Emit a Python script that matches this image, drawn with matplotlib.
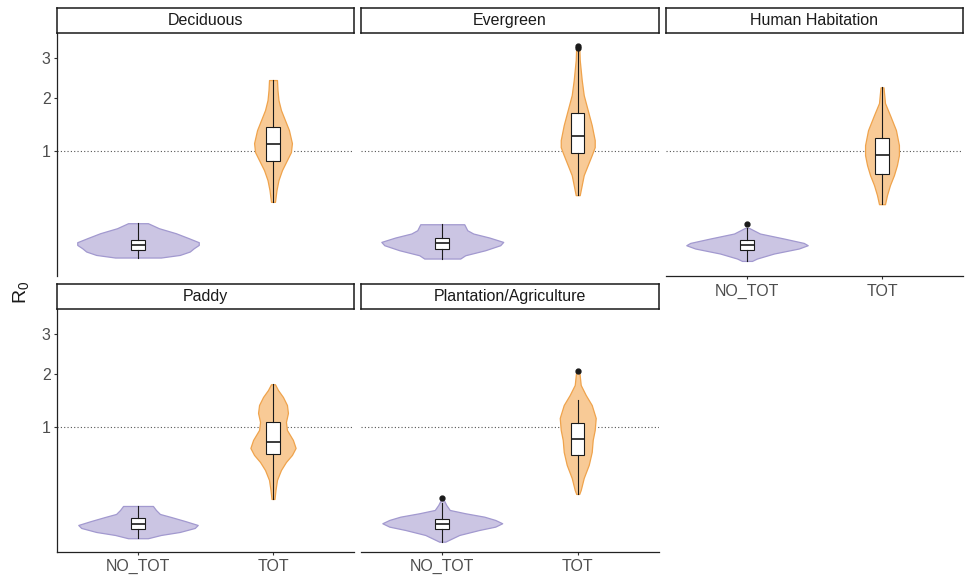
import numpy as np
import matplotlib
matplotlib.use("Agg")
import matplotlib.pyplot as plt

plt.rcParams['font.family'] = ['Liberation Sans', 'DejaVu Sans']
plt.rcParams['mathtext.fontset'] = 'custom'
plt.rcParams['mathtext.rm'] = 'Liberation Sans'

# ---------------- data ----------------
facets = ["Deciduous", "Evergreen", "Human Habitation", "Paddy", "Plantation/Agriculture"]
groups = ["NO_TOT", "TOT"]
y_ticks = [1, 2, 3]
y_tick_labels = ["1", "2", "3"]
threshold = 1.0

# violin outlines: R0 values (ascending) and relative density (half-width)
dec_notot_y = [0.0260, 0.0330, 0.0435, 0.0549, 0.0678, 0.0794, 0.0981, 0.1243, 0.1536, 0.186]
dec_notot_d = [23, 42, 52, 56, 61, 61, 51, 38, 21, 10]
dec_tot_y = [0.359, 0.478, 0.593, 0.720, 0.860, 0.981, 1.126, 1.354, 1.543, 1.745, 1.959, 2.186, 2.425]
dec_tot_d = [2, 3.5, 5.5, 9, 14, 18, 19, 16, 12, 8, 5.5, 4.5, 4]

eve_notot_y = [0.0235, 0.0321, 0.0478, 0.0666, 0.0807, 0.1016, 0.1226, 0.1415, 0.179]
eve_notot_d = [18, 23, 43, 58, 61, 47, 31, 25, 22]
eve_tot_y = [0.425, 0.534, 0.655, 0.789, 0.9345, 1.060, 1.177, 1.447, 1.745, 2.071, 2.425, 2.941, 3.331]
eve_tot_d = [2, 4, 6, 10, 14, 17, 17, 14, 10, 6, 4, 2, 1.5]

hum_notot_y = [0.0181, 0.0235, 0.0371, 0.0539, 0.0666, 0.0763, 0.0966, 0.1226, 0.1555]
hum_notot_d = [5, 10, 27, 52, 61, 57, 37, 13, 2]
hum_tot_y = [0.3375, 0.425, 0.534, 0.655, 0.789, 0.9345, 1.093, 1.354, 1.643, 1.894, 2.249]
hum_tot_d = [3, 5, 8, 12, 15, 17, 17, 14, 8, 3, 1.5]

pad_notot_y = [0.0149, 0.0218, 0.0294, 0.0412, 0.0513, 0.0666, 0.0839, 0.0981, 0.1188, 0.1415]
pad_notot_d = [10, 23, 42, 57, 60, 47, 33, 22, 18, 15]
pad_tot_y = [0.186, 0.252, 0.3375, 0.435, 0.522, 0.605, 0.694, 0.803, 0.950, 1.077, 1.229, 1.372, 1.524, 1.663, 1.781]
pad_tot_d = [1.5, 2.5, 4, 8, 13, 19, 22.7, 20, 14, 13, 15, 14, 10, 5, 2]

pla_notot_y = [0.0090, 0.0218, 0.0350, 0.0455, 0.0576, 0.0708, 0.0852, 0.1016, 0.1188, 0.1475, 0.179]
pla_notot_d = [3, 17, 37, 53, 60, 53, 42, 23, 7.5, 4, 1.5]
pla_tot_y = [0.2216, 0.252, 0.356, 0.489, 0.642, 0.803, 0.950, 1.143, 1.372, 1.563, 1.766, 2.071]
pla_tot_d = [1.5, 3, 6, 11, 14, 15, 17, 18, 14, 8, 3, 1.5]

# box stats: [whisker low, q1, median, q3, whisker high]
dec_notot_box = [0.026, 0.0478, 0.0695, 0.0918, 0.186]
dec_tot_box = [0.359, 0.845, 1.109, 1.415, 2.425]
eve_notot_box = [0.0235, 0.0539, 0.0780, 0.0996, 0.179]
eve_tot_box = [0.425, 0.961, 1.246, 1.677, 3.217]
hum_notot_box = [0.0181, 0.0478, 0.0666, 0.0884, 0.1555]
hum_tot_box = [0.3375, 0.668, 0.930, 1.217, 2.249]
pad_notot_box = [0.0149, 0.0371, 0.0539, 0.0780, 0.1415]
pad_tot_box = [0.186, 0.614, 0.771, 1.072, 1.781]
pla_notot_box = [0.0090, 0.0371, 0.0539, 0.0750, 0.158]
pla_tot_box = [0.2216, 0.601, 0.821, 1.065, 1.466]

# outliers
dec_notot_out, dec_tot_out = [], []
eve_notot_out, eve_tot_out = [], [3.27, 3.33]
hum_notot_out, hum_tot_out = [0.179], []
pad_notot_out, pad_tot_out = [], []
pla_notot_out, pla_tot_out = [0.1908], [2.071]

violins = [
    [(dec_notot_y, dec_notot_d, dec_notot_box, dec_notot_out), (dec_tot_y, dec_tot_d, dec_tot_box, dec_tot_out)],
    [(eve_notot_y, eve_notot_d, eve_notot_box, eve_notot_out), (eve_tot_y, eve_tot_d, eve_tot_box, eve_tot_out)],
    [(hum_notot_y, hum_notot_d, hum_notot_box, hum_notot_out), (hum_tot_y, hum_tot_d, hum_tot_box, hum_tot_out)],
    [(pad_notot_y, pad_notot_d, pad_notot_box, pad_notot_out), (pad_tot_y, pad_tot_d, pad_tot_box, pad_tot_out)],
    [(pla_notot_y, pla_notot_d, pla_notot_box, pla_notot_out), (pla_tot_y, pla_tot_d, pla_tot_box, pla_tot_out)],
]

# ---------------- style / layout ----------------
fill_colors = ["#CBC5E3", "#F8CA96"]
edge_colors = ["#A299CF", "#EFA34C"]
WIDTH_SCALE = 0.45 / 61.0

W, H = 965, 576
fig = plt.figure(figsize=(W / 100, H / 100), dpi=100)


def rect(x0, y0, x1, y1):
    return [x0 / W, 1 - y1 / H, (x1 - x0) / W, (y1 - y0) / H]


cols = [(57, 354), (361, 659), (666, 963)]
rows_axes = [(33.3, 276), (309.3, 551.7)]
rows_strip = [(8.3, 33.3), (284, 309.3)]
facet_pos = [(0, 0), (0, 1), (0, 2), (1, 0), (1, 1)]

fwd = lambda v: np.sqrt(np.clip(v, 0, None))
inv = lambda s: np.square(s)

for fi, name in enumerate(facets):
    r, c = facet_pos[fi]
    x0, x1 = cols[c]
    ya, yb = rows_axes[r]
    ax = fig.add_axes(rect(x0, ya, x1, yb))
    ax.set_yscale('function', functions=(fwd, inv))
    ax.set_xlim(0.4, 2.6)
    ax.set_ylim(0.016 ** 2, 1.925 ** 2)
    ax.axhline(threshold, color='#555555', lw=0.8, ls=(0, (1, 2)), zorder=1)

    for gi in range(2):
        yv, dv, box, outl = violins[fi][gi]
        pos = gi + 1
        yv = np.array(yv)
        hw = np.array(dv) * WIDTH_SCALE
        ax.fill_betweenx(yv, pos - hw, pos + hw, facecolor=fill_colors[gi],
                         edgecolor=edge_colors[gi], lw=0.9, zorder=2)
        stats = [dict(whislo=box[0], q1=box[1], med=box[2], q3=box[3], whishi=box[4],
                      fliers=outl)]
        ax.bxp(stats, positions=[pos], widths=0.1, patch_artist=True, showcaps=False,
               manage_ticks=False,
               boxprops=dict(facecolor='white', edgecolor='#1a1a1a', linewidth=0.8),
               medianprops=dict(color='#1a1a1a', linewidth=1.2),
               whiskerprops=dict(color='#1a1a1a', linewidth=0.8),
               flierprops=dict(marker='o', markerfacecolor='#1a1a1a',
                               markeredgecolor='#1a1a1a', markersize=3.5),
               zorder=3)

    for s in ['top', 'right']:
        ax.spines[s].set_visible(False)
    left_on = (c == 0)
    bottom_on = (r == 1) or (fi == 2)
    ax.spines['left'].set_visible(left_on)
    ax.spines['bottom'].set_visible(bottom_on)
    for s in ['left', 'bottom']:
        ax.spines[s].set_linewidth(0.9)
        ax.spines[s].set_color('#222222')
    ax.set_yticks(y_ticks)
    ax.set_yticklabels(y_tick_labels)
    ax.yaxis.set_minor_locator(matplotlib.ticker.NullLocator())
    ax.set_xticks([1, 2])
    ax.set_xticklabels(groups)
    ax.tick_params(axis='y', left=left_on, labelleft=left_on, length=2.5, width=0.8,
                   color='#333333', labelsize=11.5, labelcolor='#4D4D4D', pad=2)
    ax.tick_params(axis='x', bottom=bottom_on, labelbottom=bottom_on, length=2.5, width=0.8,
                   color='#333333', labelsize=11.5, labelcolor='#4D4D4D', pad=3)
    ax.patch.set_alpha(0)

    sa, sb = rows_strip[r]
    sx = fig.add_axes(rect(x0, sa, x1, sb))
    sx.set_xticks([])
    sx.set_yticks([])
    sx.set_facecolor('white')
    for s in sx.spines.values():
        s.set_linewidth(1.1)
        s.set_color('#1a1a1a')
    sx.text(0.5, 0.5, name, ha='center', va='center', fontsize=11.5, color='#1a1a1a',
            transform=sx.transAxes)

fig.text(21 / W, 1 - 292 / H, r'$\mathregular{R_0}$', rotation=90, ha='center', va='center',
         fontsize=14, color='#1a1a1a')

fig.savefig('out.png', dpi=100)
